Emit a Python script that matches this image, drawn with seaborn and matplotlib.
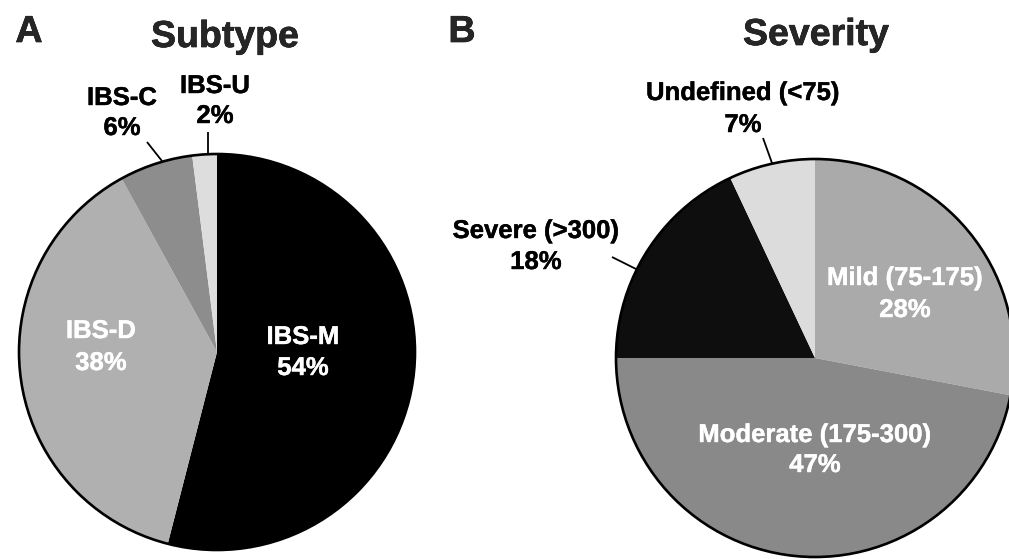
import matplotlib
matplotlib.use("Agg")
import matplotlib.pyplot as plt
import matplotlib.patheffects as pe
from matplotlib.patches import Circle
import seaborn as sns

# ---- data ----
subtype_labels = ["IBS-M", "IBS-D", "IBS-C", "IBS-U"]
subtype_values = [54, 38, 6, 2]
subtype_colors = ["#000000", "#b0b0b0", "#8d8d8d", "#dddddd"]

severity_labels = ["Mild (75-175)", "Moderate (175-300)", "Severe (>300)", "Undefined (<75)"]
severity_values = [28, 47, 18, 7]
severity_colors = ["#aaaaaa", "#898989", "#0e0e0e", "#dcdcdc"]

sns.set_theme(style="white")
plt.rcParams["font.family"] = ["Liberation Sans", "DejaVu Sans"]
plt.rcParams["font.weight"] = "bold"

W, H = 1009, 559
fig = plt.figure(figsize=(W / 100, H / 100), dpi=100)
ax = fig.add_axes([0, 0, 1, 1])


def Y(py):
    return H - py


# pie geometry (pixel units)
pieA = dict(center=(217, Y(352)), radius=198)
pieB = dict(center=(815, Y(358)), radius=199)

for vals, cols, geo in [(subtype_values, subtype_colors, pieA),
                        (severity_values, severity_colors, pieB)]:
    ax.pie(vals, colors=cols, startangle=90, counterclock=False,
           center=geo["center"], radius=geo["radius"],
           wedgeprops=dict(linewidth=0, antialiased=True), frame=False)
    ax.add_patch(Circle(geo["center"], geo["radius"], fill=False,
                        edgecolor="black", linewidth=1.9, zorder=5))

ax.set_xlim(0, W)
ax.set_ylim(0, H)
ax.set_aspect("equal")
ax.axis("off")

FS = 18.5


def heavy(color, w=0.3):
    return [pe.withStroke(linewidth=w, foreground=color)]


def label(x, b1, b2, name, pct, color):
    for yy, s in [(b1, name), (b2, pct)]:
        ax.text(x, Y(yy), s, ha="center", va="baseline", fontsize=FS,
                fontweight="bold", color=color, zorder=6,
                path_effects=heavy(color))


def pct(v):
    return f"{v}%"


# Subtype labels
label(303, 344, 375, subtype_labels[0], pct(subtype_values[0]), "white")
label(101, 338, 370, subtype_labels[1], pct(subtype_values[1]), "white")
label(122, 105, 135, subtype_labels[2], pct(subtype_values[2]), "black")
label(215, 93, 123, subtype_labels[3], pct(subtype_values[3]), "black")

# Severity labels
label(905, 285, 317, severity_labels[0], pct(severity_values[0]), "white")
label(815, 442, 472, severity_labels[1], pct(severity_values[1]), "white")
label(536, 238, 269, severity_labels[2], pct(severity_values[2]), "black")
label(743, 100, 132, severity_labels[3], pct(severity_values[3]), "black")

# leader lines
leaders = [((147, 142), (162, 161)),
           ((208, 132), (208, 154)),
           ((763, 138), (772, 163)),
           ((612, 257), (636, 269))]
for (x1, y1), (x2, y2) in leaders:
    ax.plot([x1, x2], [Y(y1), Y(y2)], color="black", linewidth=1.3,
            solid_capstyle="butt", zorder=6)

# titles and panel letters
for x, b, s in [(29, 42, "A"), (225, 47, "Subtype"), (462, 42, "B"), (816, 45, "Severity")]:
    ax.text(x, Y(b), s, ha="center", va="baseline", fontsize=27,
            fontweight="bold", path_effects=heavy("black", 0.45))

fig.savefig("out.png", dpi=100, facecolor="white")
